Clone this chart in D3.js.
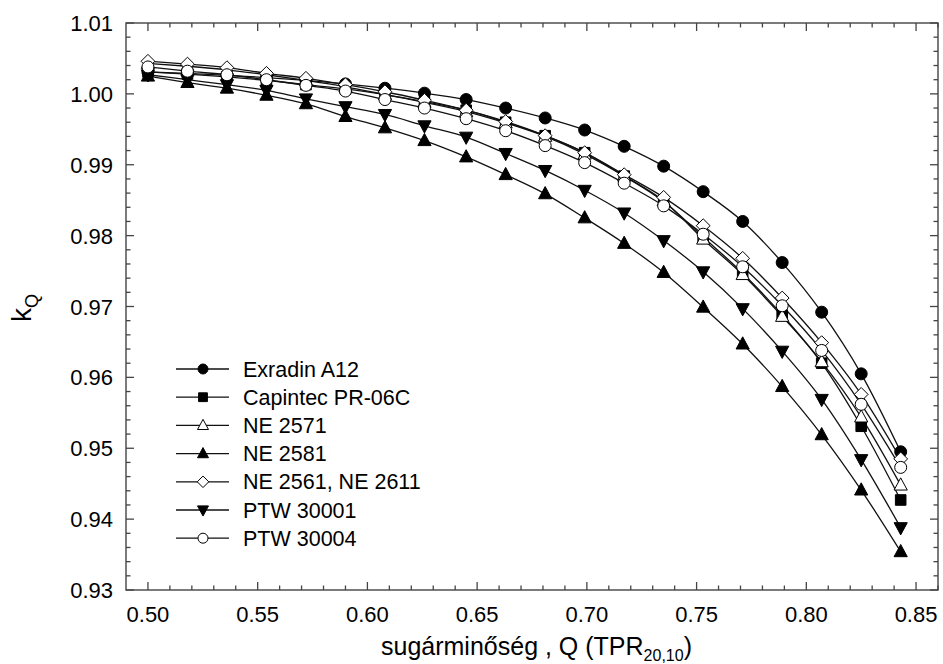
<!DOCTYPE html>
<html>
<head>
<meta charset="utf-8">
<script src="https://cdn.jsdelivr.net/npm/d3@7"></script>
<style>
  body { margin: 0; background: #fff; }
  text { font-family: "Liberation Sans", Arial, sans-serif; fill: #000; }
</style>
</head>
<body>
<div id="container"></div>
<script>
// beam quality values (x axis)
const tpr = [0.500, 0.518, 0.536, 0.554, 0.572, 0.590, 0.608, 0.626, 0.645, 0.663,
             0.681, 0.699, 0.717, 0.735, 0.753, 0.771, 0.789, 0.807, 0.825, 0.843];

// kQ values, one array per chamber
const exradinA12 = [1.0031, 1.0029, 1.0026, 1.0023, 1.0019, 1.0014, 1.0008, 1.0001, 0.9992, 0.9980,
                    0.9966, 0.9949, 0.9926, 0.9898, 0.9862, 0.9820, 0.9762, 0.9692, 0.9605, 0.9495];
const capintec   = [1.0031, 1.0028, 1.0024, 1.0019, 1.0013, 1.0007, 0.9999, 0.9989, 0.9977, 0.9960,
                    0.9941, 0.9917, 0.9884, 0.9848, 0.9798, 0.9747, 0.9688, 0.9620, 0.9531, 0.9427];
const ne2571     = [1.0043, 1.0039, 1.0034, 1.0027, 1.0019, 1.0010, 0.9999, 0.9988, 0.9975, 0.9959,
                    0.9940, 0.9915, 0.9884, 0.9849, 0.9795, 0.9745, 0.9686, 0.9622, 0.9544, 0.9448];
const ne2581     = [1.0025, 1.0016, 1.0008, 0.9998, 0.9986, 0.9968, 0.9952, 0.9934, 0.9911, 0.9886,
                    0.9859, 0.9825, 0.9789, 0.9748, 0.9699, 0.9647, 0.9587, 0.9519, 0.9441, 0.9354];
const ne2561     = [1.0046, 1.0042, 1.0037, 1.0029, 1.0022, 1.0013, 1.0003, 0.9991, 0.9977, 0.9961,
                    0.9941, 0.9917, 0.9886, 0.9854, 0.9814, 0.9768, 0.9712, 0.9649, 0.9576, 0.9485];
const ptw30001   = [1.0027, 1.0020, 1.0013, 1.0005, 0.9993, 0.9982, 0.9971, 0.9955, 0.9939, 0.9916,
                    0.9892, 0.9864, 0.9832, 0.9793, 0.9749, 0.9697, 0.9637, 0.9569, 0.9484, 0.9388];
const ptw30004   = [1.0038, 1.0032, 1.0027, 1.0020, 1.0012, 1.0004, 0.9992, 0.9980, 0.9965, 0.9948,
                    0.9927, 0.9903, 0.9874, 0.9842, 0.9802, 0.9756, 0.9701, 0.9638, 0.9562, 0.9473];

const seriesNames = ["Exradin A12", "Capintec PR-06C", "NE 2571", "NE 2581", "NE 2561, NE 2611", "PTW 30001", "PTW 30004"];
const seriesValues = [exradinA12, capintec, ne2571, ne2581, ne2561, ptw30001, ptw30004];
const seriesSymbols = ["circle", "square", "triangle", "triangle", "diamond", "triangleDown", "circle"];
const seriesFilled = [true, true, false, true, false, true, false];

const xTickLabels = ["0.50", "0.55", "0.60", "0.65", "0.70", "0.75", "0.80", "0.85"];
const yTickLabels = ["0.93", "0.94", "0.95", "0.96", "0.97", "0.98", "0.99", "1.00", "1.01"];

/* layout */
const width = 943, height = 664;
const plot = { left: 126, right: 938, top: 23, bottom: 590 };

const svg = d3.select("#container").append("svg")
  .attr("width", width)
  .attr("height", height);

const x = d3.scaleLinear().domain([0.49, 0.86]).range([plot.left, plot.right]);
const y = d3.scaleLinear().domain([0.93, 1.01]).range([plot.bottom, plot.top]);

// frame
svg.append("rect")
  .attr("x", plot.left).attr("y", plot.top)
  .attr("width", plot.right - plot.left).attr("height", plot.bottom - plot.top)
  .attr("fill", "none").attr("stroke", "#444").attr("stroke-width", 1.4);

// ticks point inward on all four sides
const xMinor = d3.range(50, 87).map(d => d / 100);
const yMinor = d3.range(465, 506).map(d => d / 500);
const isMajorX = v => Math.abs(v * 20 - Math.round(v * 20)) < 1e-6;
const isMajorY = v => Math.abs(v * 100 - Math.round(v * 100)) < 1e-6;

const ticks = svg.append("g").attr("stroke", "#444").attr("stroke-width", 1.3);
xMinor.forEach(v => {
  const len = isMajorX(v) ? 8 : 4.5;
  ticks.append("line").attr("x1", x(v)).attr("x2", x(v)).attr("y1", plot.bottom).attr("y2", plot.bottom - len);
  ticks.append("line").attr("x1", x(v)).attr("x2", x(v)).attr("y1", plot.top).attr("y2", plot.top + len);
});
yMinor.forEach(v => {
  const len = isMajorY(v) ? 8 : 4.5;
  ticks.append("line").attr("y1", y(v)).attr("y2", y(v)).attr("x1", plot.left).attr("x2", plot.left + len);
  ticks.append("line").attr("y1", y(v)).attr("y2", y(v)).attr("x1", plot.right).attr("x2", plot.right - len);
});

// tick labels
svg.append("g").selectAll("text")
  .data(xTickLabels)
  .join("text")
  .attr("x", d => x(+d))
  .attr("y", 622)
  .attr("text-anchor", "middle")
  .attr("font-size", "22px")
  .text(d => d);

svg.append("g").selectAll("text")
  .data(yTickLabels)
  .join("text")
  .attr("x", 113)
  .attr("y", d => y(+d) + 8)
  .attr("text-anchor", "end")
  .attr("font-size", "22px")
  .text(d => d);

// axis titles
const xTitle = svg.append("text")
  .attr("x", 381)
  .attr("y", 655)
  .attr("font-size", "25px")
  .text("sugárminőség , Q (TPR");
xTitle.append("tspan").attr("font-size", "16px").attr("dy", 6).text("20,10");
xTitle.append("tspan").attr("dy", -6).text(")");

const yTitle = svg.append("text")
  .attr("transform", "translate(31, 308) rotate(-90)")
  .attr("text-anchor", "middle")
  .attr("font-size", "28px")
  .text("k");
yTitle.append("tspan").attr("font-size", "18px").attr("dy", 7).text("Q");

// marker paths
function markerPath(type, s) {
  if (type === "circle") return d3.symbol(d3.symbolCircle, Math.PI * s * s)();
  if (type === "square") { const h = s * 0.88; return `M${-h},${-h}H${h}V${h}H${-h}Z`; }
  if (type === "diamond") { const h = s * 1.15; return `M0,${-h}L${h},0L0,${h}L${-h},0Z`; }
  const a = s * 1.1, up = type === "triangle" ? 1 : -1;
  return `M0,${-up * a * 1.1}L${a},${up * a * 0.75}L${-a},${up * a * 0.75}Z`;
}

// lines
const line = d3.line()
  .x((d, i) => x(tpr[i]))
  .y(d => y(d))
  .curve(d3.curveMonotoneX);

svg.append("g").selectAll("path")
  .data(seriesValues)
  .join("path")
  .attr("d", line)
  .attr("fill", "none")
  .attr("stroke", "#111")
  .attr("stroke-width", 1.3);

// markers, drawn series by series so the later ones sit on top
seriesValues.forEach((vals, k) => {
  svg.append("g").selectAll("path")
    .data(vals)
    .join("path")
    .attr("transform", (d, i) => `translate(${x(tpr[i])},${y(d)})`)
    .attr("d", markerPath(seriesSymbols[k], 6))
    .attr("fill", seriesFilled[k] ? "#000" : "#fff")
    .attr("stroke", "#000")
    .attr("stroke-width", 1);
});

// legend
const legend = svg.append("g");
seriesNames.forEach((name, k) => {
  const ly = 369 + k * 28.2;
  legend.append("line")
    .attr("x1", 176).attr("x2", 229)
    .attr("y1", ly).attr("y2", ly)
    .attr("stroke", "#111").attr("stroke-width", 1.3);
  legend.append("path")
    .attr("transform", `translate(203,${ly})`)
    .attr("d", markerPath(seriesSymbols[k], 5))
    .attr("fill", seriesFilled[k] ? "#000" : "#fff")
    .attr("stroke", "#000")
    .attr("stroke-width", 1);
  legend.append("text")
    .attr("x", 243)
    .attr("y", ly + 7.5)
    .attr("font-size", "21.5px")
    .text(name);
});
</script>
</body>
</html>
